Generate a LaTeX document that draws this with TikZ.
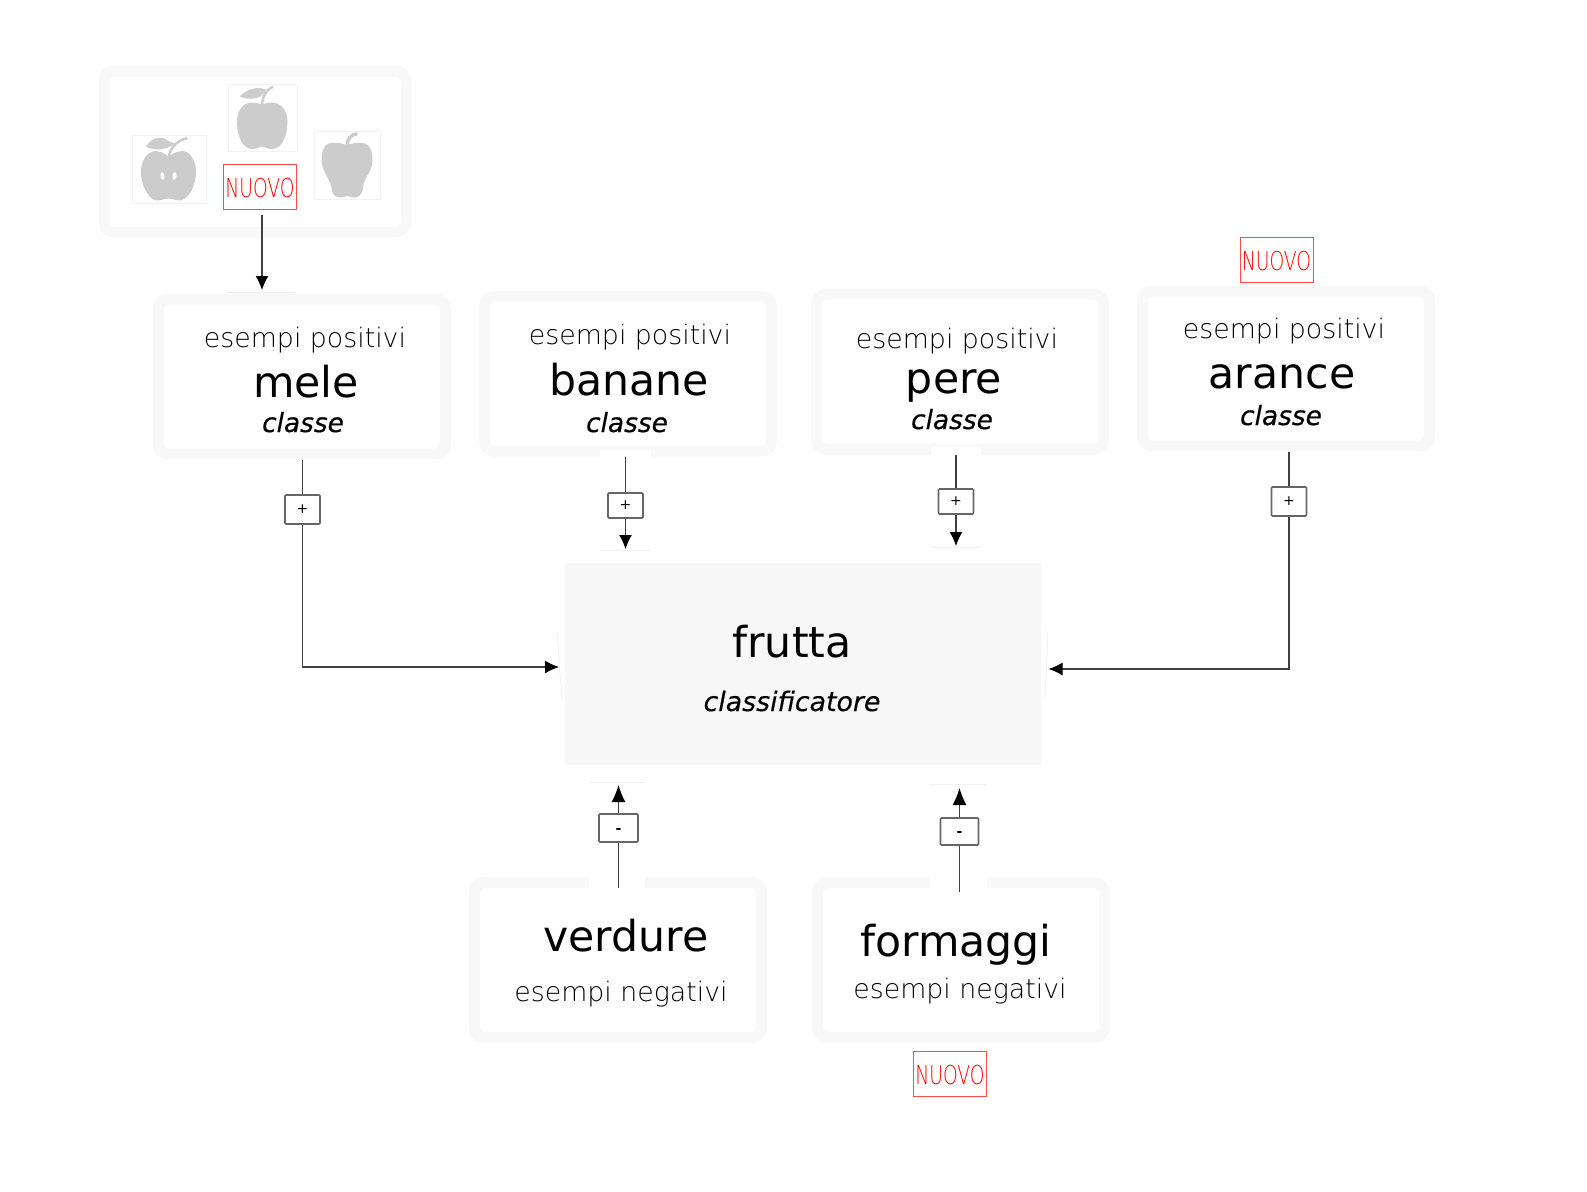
\documentclass[tikz,border=0pt]{standalone}
\usepackage{fontspec}
\setmainfont{DejaVu Sans}
\newfontfamily\lightfont{DejaVu Sans ExtraLight}
\newfontfamily\nuovofont[FakeStretch=0.72]{DejaVu Sans ExtraLight}
\newfontfamily\kindfont[ItalicFeatures={FakeBold=.5}]{DejaVu Sans}
\newfontfamily\coverfont[ItalicFeatures={FakeBold=.2}]{DejaVu Sans}
\usetikzlibrary{arrows.meta}
\definecolor{boxgray}{HTML}{F8F8F8}
\definecolor{framegray}{HTML}{F2F2F2}
\definecolor{fruitgray}{HTML}{CCCCCC}
\definecolor{newred}{HTML}{FF4A4A}
\definecolor{rootgray}{HTML}{F7F7F7}
\tikzset{
	fruitbox/.style={draw=boxgray,line width=5.5pt,rounded corners=5pt,minimum width=143.5pt,minimum height=77.5pt},
	framebox/.style={draw=framegray,line width=.5pt,inner sep=0pt},
	newbox/.style={draw=newred,line width=.5pt,inner sep=0pt,minimum width=36.5pt,minimum height=22.5pt,text=red,text height=11pt,text depth=0pt,font=\nuovofont\fontsize{13}{15}\selectfont},
	signbox/.style={draw=black!60,line width=.8pt,rounded corners=.5pt,inner sep=0pt,fill=white,minimum width=17.5pt,minimum height=14.5pt,font=\fontsize{7}{8}\selectfont},
	minusbox/.style={signbox,text height=5pt,text depth=0pt,font=\bfseries\fontsize{7}{8}\selectfont},
	link/.style={draw=black!75,line width=.6pt},
	tip/.style={link,-{Latex[length=7pt,width=6.5pt,black]}},
	bigtip/.style={link,-{Latex[length=8.5pt,width=7pt,black]}},
	positive/.style={anchor=base,font=\lightfont\fontsize{13.4}{16}\selectfont},
	fruit/.style={anchor=base,font=\fontsize{21.3}{25}\selectfont},
	kind/.style={anchor=base,font=\kindfont\itshape\fontsize{13.2}{16}\selectfont},
	ghost/.style={draw=black!6,line width=.4pt},
}
\begin{document}
\begin{tikzpicture}[x=.5pt,y=-.5pt]
	\useasboundingbox (0,0) rectangle (1587,1191);
	% examples
	\node[fruitbox,minimum width=151pt,minimum height=80.5pt] (examples) at (255,151.5) {};
	\node[framebox,minimum width=37pt,minimum height=34pt] (apple one) at (169,169) {};
	\node[framebox,minimum width=34.5pt,minimum height=33.5pt] (apple two) at (262.5,117.5) {};
	\node[framebox,minimum width=33pt,minimum height=34pt] (apple three) at (347,165) {};
	\node[newbox] (new apple) at (260,186.5) {NUOVO};
	% apple one
	\fill[fruitgray] (168.5,156.5) .. controls (164,153) and (160,151) .. (155,151) .. controls (146,152) and (141,162) .. (141,172) .. controls (141,186) and (149,200) .. (157,200.5) .. controls (161,200.5) and (165,198.5) .. (168.5,198.5) .. controls (172,198.5) and (176,200.5) .. (180,200.5) .. controls (188,200) and (196,186) .. (196,172) .. controls (196,162) and (191,152) .. (183,151) .. controls (178,151) and (173,153) .. (168.5,156.5) -- cycle;
	\draw[fruitgray,line width=1.2pt] (168.5,158) .. controls (170,147) and (178,140) .. (187.5,138);
	\fill[fruitgray] (146,146.5) .. controls (150,140) and (158,135) .. (165,139) .. controls (168,141) and (172,143) .. (175,143.5) .. controls (168,149) and (155,152) .. (146,146.5);
	\fill[white,rotate around={8:(162.5,176)}] (162.5,176) ellipse (2 and 4);
	\fill[white,rotate around={-8:(174.5,176)}] (174.5,176) ellipse (2 and 4);
	% apple two
	\fill[fruitgray] (262,105) .. controls (267,102) and (272,102) .. (277,103.5) .. controls (284,106) and (287.5,114) .. (287.5,122) .. controls (287.5,133) and (283,149) .. (272,149) .. controls (268,149) and (265,147) .. (262,146.5) .. controls (259,147) and (256,149) .. (252,149) .. controls (241,149) and (237,133) .. (237,122) .. controls (237,114) and (240,106) .. (247,103.5) .. controls (252,102) and (257,102) .. (262,105) -- cycle;
	\draw[fruitgray,line width=1.2pt] (262,107) .. controls (262,97) and (266,90) .. (273,86.5);
	\fill[fruitgray] (239.5,96.5) .. controls (246,90) and (258,85) .. (266.5,90) .. controls (262,99) and (250,101) .. (239.5,96.5);
	% apple three
	\fill[fruitgray] (347,145) .. controls (341,143) and (334,142) .. (328.5,143.5) .. controls (323,146) and (321.5,153) .. (321.5,160) .. controls (321.5,170) and (329,178) .. (331.5,187) .. controls (332,192) and (333,197) .. (340,197.5) .. controls (343,197.5) and (345,196.5) .. (347,196) .. controls (349,196.5) and (352,197.5) .. (355,197.5) .. controls (361,197) and (363,192) .. (363.5,184) .. controls (366,176) and (372.5,170) .. (372.5,160) .. controls (372.5,153) and (371,146) .. (365,143.5) .. controls (359,142) and (353,143) .. (347,145) -- cycle;
	\draw[fruitgray,line width=1.7pt] (347,146) .. controls (347,139) and (351,134.5) .. (357.5,133.5);
	% classes
	\node[fruitbox] (mele) at (301.75,376.5) {};
	\node[fruitbox] (banane) at (628,373.5) {};
	\node[fruitbox] (pere) at (960,371.5) {};
	\node[fruitbox] (arance) at (1286,368.5) {};
	\node[fruitbox] (verdure) at (618,960) {};
	\node[fruitbox] (formaggi) at (961,960) {};
	\node[fill=rootgray,minimum width=238pt,minimum height=101pt,inner sep=0pt] (frutta) at (803,664) {};
	% erased pieces of the frames
	\fill[white] (600,450) rectangle (651,458);
	\fill[white] (931,447) rectangle (981,456);
	\fill[white] (589,875) rectangle (645,889);
	\fill[white] (930,875) rectangle (987,889);
	\draw[ghost] (227,292) -- (295,292);
	\draw[ghost] (600,550) -- (651,550);
	\draw[ghost] (931,547) -- (981,547);
	\draw[ghost] (589,782) -- (645,782);
	\draw[ghost] (930,784) -- (987,784);
	\draw[ghost] (557,632) -- (562,700);
	\draw[ghost] (1048,631) -- (1045,700);
	% texts
	\node[positive] (mele pos) at (305,347) {esempi positivi};
	\node[fruit] (mele name) at (306,397) {mele};
	\node[kind] (mele kind) at (303,432) {classe};
	\node[positive] (banane pos) at (630,344) {esempi positivi};
	\node[fruit] (banane name) at (629,395) {banane};
	\node[kind] (banane kind) at (627,432) {classe};
	\node[positive] (pere pos) at (957,348) {esempi positivi};
	\node[fruit] (pere name) at (954,393) {pere};
	\node[kind] (pere kind) at (952,429) {classe};
	\node[positive] (arance pos) at (1284,338) {esempi positivi};
	\node[fruit] (arance name) at (1282,388) {arance};
	\node[kind] (arance kind) at (1281,425) {classe};
	\node[fruit] (frutta name) at (792,657) {frutta};
	\node[kind,font=\coverfont\itshape\fontsize{13.4}{16}\selectfont] (frutta kind) at (792,711) {classificatore};
	\node[fruit] (verdure name) at (626,951) {verdure};
	\node[positive] (verdure neg) at (621,1001) {esempi negativi};
	\node[fruit] (formaggi name) at (956,956) {formaggi};
	\node[positive] (formaggi neg) at (960,998) {esempi negativi};
	% new labels
	\node[newbox] (new arance) at (1276.5,259.5) {NUOVO};
	\node[newbox] (new formaggi) at (950,1073.5) {NUOVO};
	% signs
	\node[signbox] (plus mele) at (302.5,509.5) {+};
	\node[signbox,minimum height=12.5pt] (plus banane) at (625.5,505.5) {+};
	\node[signbox,minimum height=12.5pt] (plus pere) at (956,501.5) {+};
	\node[signbox] (plus arance) at (1289,501.5) {+};
	\node[minusbox,minimum width=19.5pt,minimum height=14pt] (minus verdure) at (618.5,828) {-};
	\node[minusbox,minimum width=19pt,minimum height=13.5pt] (minus formaggi) at (959.5,831.5) {-};
	% connector ends
	\coordinate (new apple start) at (262,215);
	\coordinate (new apple end) at (262,290);
	\coordinate (banane end) at (625.5,549);
	\coordinate (pere end) at (956,546);
	\coordinate (left end) at (559,667);
	\coordinate (right end) at (1048.5,669);
	\coordinate (verdure end) at (618.5,785);
	\coordinate (formaggi end) at (959.5,788);
	\coordinate (verdure start) at (618.5,888);
	\coordinate (formaggi start) at (959.5,892);
	% connectors
	\draw[tip] (new apple start) -- (new apple end);
	\draw[link] (mele.south -| plus mele) -- (plus mele.north);
	\draw[tip] (plus mele.south) |- (left end);
	\draw[link] (banane.south -| plus banane) -- (plus banane.north);
	\draw[tip] (plus banane.south) -- (banane end);
	\draw[link] (pere.south -| plus pere) -- (plus pere.north);
	\draw[tip] (plus pere.south) -- (pere end);
	\draw[link] (arance.south -| plus arance) -- (plus arance.north);
	\draw[tip] (plus arance.south) |- (right end);
	\draw[link] (verdure start) -- (minus verdure.south);
	\draw[bigtip] (minus verdure.north) -- (verdure end);
	\draw[link] (formaggi start) -- (minus formaggi.south);
	\draw[bigtip] (minus formaggi.north) -- (formaggi end);
\end{tikzpicture}
\end{document}
